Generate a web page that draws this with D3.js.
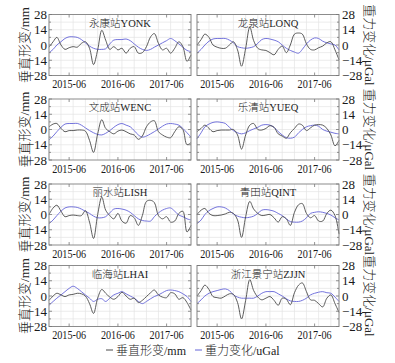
<!DOCTYPE html>
<html><head><meta charset="utf-8">
<script src="https://cdn.jsdelivr.net/npm/d3@7"></script>
<style>body{margin:0;background:#fff} svg{display:block}</style>
</head><body><svg id="c" width="395" height="363"></svg>
<script>
// ---------- data ----------
const months = d3.range(36).map(i => new Date(2015, i, 1)); // 2015-01 .. 2017-12
const xTickDates = [new Date(2015,5,1), new Date(2016,5,1), new Date(2017,5,1)];
const xTickLabels = ["2015-06","2016-06","2017-06"];
const yTicks = [28,14,0,-14,-28];
const yTickLabels = ["28","14","0","−14","−28"];
const stationNames = ["永康站YONK","龙泉站LONQ","文成站WENC","乐清站YUEQ","丽水站LISH","青田站QINT","临海站LHAI","浙江景宁站ZJJN"];
const seriesNames = ["垂直形变/mm","重力变化/uGal"];

const deformYONK = [-2,3,7,0,-4,-2.5,-1.5,-2,1.5,3,-3,-18,-4.5,13.5,4.5,-4,-1.5,-4.5,-3,-7.5,-3,-1.5,-7.5,-7,-1.5,7.5,10.5,1.5,-4.5,-3,-7.5,-3,3,-1.5,-15,-9];
const gravityYONK = [-7,-4,0,3,6,7.5,7.5,7,5,2,-1,-3,-4,-4,-3.5,1,4.5,5,5,5.5,4,1,-2,-4,-5,-4,-2,0,2,4,6,4,1,-2,-5,-6];
const deformLONQ = [0,5,10,7,0,-2,-3,-3,0,3,-4.5,-19.5,-3,16.5,4,-3,-4.5,-5,-7,-9,-4,-1,-7,0,10,11,10,1,-4,-4.5,-2.5,-1,2,3,-4.5,-13.5];
const gravityLONQ = [-7.5,-4,0,3.5,5.5,6,6,6,4.5,2,-1.5,-2.5,-3,-2.5,-1.5,1.5,5,6,5.5,4.5,3,0,-3,-5,-6.5,-7.5,-4,1,4.5,6.5,6,3.5,2,1,0,-4.5];
const deformWENC = [2.5,5,5.5,1,-2,-1,-1,-0.5,-0.5,-1.5,-10,-21,-4,9,1,-2,-4,-1.5,-0.5,-2,-4,-5,-9,-6,2.5,7,8,-2,-5,-7,-7.5,-2,2.5,0,-14,-12];
const gravityWENC = [-9.5,-6,-2,2,5,5.5,5.5,5.6,4,1.5,-1,-3,-4.5,-5,-3.5,-1,2,4.5,5.5,4,2.5,-1,-5,-7,-6,-4,-2,0.5,3,5,5.5,5,4,1,-3,-7];
const deformYUEQ = [-2,1,4,1,-2,-1,-0.5,-0.5,-0.5,0,-5,-18,-5,4,5.5,0,-0.5,1,3.5,2,-4,-6,-8,-3,1,5,4,-1,1.5,4,4.5,4,1,-5,-15,-10];
const gravityYUEQ = [-8.5,-3,2.5,5,6.5,7,6.5,5.6,2,-1,-3,-4,-3,-1,0.5,2,4,4.5,4,2,-2,-5,-7.5,-8,-7,-3,0,2.5,3.5,4,3,0,-1.5,-2.5,-3.5,-4];
const deformLISH = [0,6,8.5,3,-2,-1,-0.5,-1,-1,3.5,-7,-22,0,16,4,-1,-4,1,-6,-8,-1,-3,-10,-1,12,13,11,-1,-4,-2,-7,-6,1,3,-16,-10];
const gravityLISH = [-8.5,-5,-1,3,6,7,7,6.5,5,3,1,-1.5,-3,-3,-2,1.5,5,5.5,5,4,2,-1,-4,-5.5,-6,-6,-2,1.5,4,5.5,6,3,-0.5,-2,-4,-5];
const deformQINT = [0,4,5.5,1,-1,-1,-0.5,0.5,2,1,-5,-21,-2,12,5,1,-1,-0.5,0,-3,-7,-2,-4,-10,2,9,10,1,-3,-1,-6,-6,1,4,-1,-18];
const gravityQINT = [-8.5,-5,0,3.5,5.5,7,7,6,3.5,0.5,-1.5,-2.5,-3,-2.5,-1.5,1,4,4.5,4,3,1,-1,-4,-6.5,-7,-7,-6,-3,1,2,2.5,2,1,-0.5,-3,-5];
const deformLHAI = [-4,0,2.5,1,-0.5,1,1.5,2.5,2,0,-7,-16,-2,6,2.5,-1,-3,-0.5,3.5,0,-3,-2,-6,-4,-0.5,3,5.5,1,-1,-1.5,3,2,-3,-1.5,-6,-13];
const gravityLHAI = [-8.5,-5,-2,1,4,7,9,7,4,1,-2,-5,-3,-2.5,-5,-2,1,2.5,4,2,0,-2,-5,-7,-5,-2.5,-0.5,1,3,5,5.5,5,4,2,-0.5,-5];
const deformZJJN = [0,5,10,6,-0.5,-1.5,-2,0,2,1.5,-6,-21,-4,15,5,-1,-3.5,-2,-0.5,-4,-8.5,-2,-3,-8,3,10,12,4,-3.5,-4,-7,-10,-2,1,-7,-15];
const gravityZJJN = [-7,-3.5,0,2.5,4,5,6,6.5,5,1,-1,-2,-2,-2,-2,0,2.5,4,4,4,2,0,-2.5,-4.5,-5,-5,-4,-2,1,2.5,3.5,4,3,2.5,-1,-5];

const deformAll = [deformYONK,deformLONQ,deformWENC,deformYUEQ,deformLISH,deformQINT,deformLHAI,deformZJJN];
const gravityAll = [gravityYONK,gravityLONQ,gravityWENC,gravityYUEQ,gravityLISH,gravityQINT,gravityLHAI,gravityZJJN];

// ---------- layout ----------
const colX = [49, 197], pw = 142, ph = 61;
const rowY = [14.5, 99, 184, 265.5];
const serif = '"Liberation Serif","Noto Sans CJK SC",serif';
const cDeform = "#4a4a4a", cGravity = "#6464d8";

const svg = d3.select("#c");
const x = d3.scaleTime().domain([months[0], months[35]]).range([0, pw]);
const y = d3.scaleLinear().domain([-28, 28]).range([ph, 0]);
const minorY = d3.range(-28, 29, 7);
const gridX = d3.range(0, 36, 3).map(i => months[i]).concat([months[35]]);

stationNames.forEach((name, k) => {
  const col = k % 2, row = Math.floor(k / 2);
  const g = svg.append("g").attr("transform", `translate(${colX[col]},${rowY[row]})`);
  // grid
  g.selectAll(".gy").data([21,14,7,0,-7,-14,-21]).join("line")
    .attr("x1", 0).attr("x2", pw).attr("y1", d => y(d)).attr("y2", d => y(d))
    .attr("stroke", "#e4e4e4").attr("stroke-width", 0.7);
  g.selectAll(".gx").data(gridX).join("line")
    .attr("x1", d => x(d)).attr("x2", d => x(d)).attr("y1", 0).attr("y2", ph)
    .attr("stroke", "#e4e4e4").attr("stroke-width", 0.7);
  // lines
  const line = d3.line().x((d, i) => x(months[i])).y(d => y(d)).curve(d3.curveCatmullRom.alpha(0.5));
  g.append("path").attr("d", line(gravityAll[k])).attr("fill", "none")
    .attr("stroke", cGravity).attr("stroke-width", 0.9);
  g.append("path").attr("d", line(deformAll[k])).attr("fill", "none")
    .attr("stroke", cDeform).attr("stroke-width", 0.9);
  // frame
  g.append("rect").attr("width", pw).attr("height", ph).attr("fill", "none")
    .attr("stroke", "#8c8c8c").attr("stroke-width", 1);
  // inward ticks
  minorY.forEach(v => {
    const L = (v % 14 === 0) ? 3 : 2;
    g.append("line").attr("x1", 0).attr("x2", L).attr("y1", y(v)).attr("y2", y(v)).attr("stroke", "#777").attr("stroke-width", 0.8);
    g.append("line").attr("x1", pw).attr("x2", pw - L).attr("y1", y(v)).attr("y2", y(v)).attr("stroke", "#777").attr("stroke-width", 0.8);
  });
  xTickDates.forEach(d => {
    g.append("line").attr("x1", x(d)).attr("x2", x(d)).attr("y1", ph).attr("y2", ph - 3).attr("stroke", "#777").attr("stroke-width", 0.8);
    g.append("line").attr("x1", x(d)).attr("x2", x(d)).attr("y1", 0).attr("y2", 3).attr("stroke", "#777").attr("stroke-width", 0.8);
  });
  // x tick labels
  xTickDates.forEach((d, i) => {
    g.append("text").attr("x", x(d)).attr("y", ph + 12.5).attr("text-anchor", "middle")
      .attr("font-family", serif).attr("font-size", 13.5).attr("fill", "#1a1a1a")
      .attr("textLength", 34).attr("lengthAdjust", "spacingAndGlyphs").text(xTickLabels[i]);
  });
  // y tick labels
  yTicks.forEach((v, i) => {
    const t = g.append("text").attr("y", y(v) + 4.5)
      .attr("font-family", serif).attr("font-size", 13).attr("fill", "#1a1a1a").text(yTickLabels[i]);
    if (col === 0) t.attr("x", -2).attr("text-anchor", "end");
    else t.attr("x", pw + 3).attr("text-anchor", "start");
  });
  // station title
  g.append("text").attr("x", pw / 2).attr("y", 12).attr("text-anchor", "middle")
    .attr("font-family", serif).attr("font-size", 10.5).attr("font-weight", 300).attr("fill", "#222").text(name);
  // axis titles
  if (col === 0) {
    g.append("text").attr("transform", `translate(${24 - colX[0]},${ph / 2}) rotate(-90)`)
      .attr("text-anchor", "middle").attr("dy", "0.35em")
      .attr("font-family", serif).attr("font-size", 13).attr("font-weight", 300).attr("fill", "#222").text("垂直形变/mm");
  } else {
    g.append("text").attr("transform", `translate(${370 - colX[1]},${ph / 2}) rotate(90)`)
      .attr("text-anchor", "middle").attr("dy", "0.35em")
      .attr("font-family", serif).attr("font-size", 13).attr("font-weight", 300).attr("fill", "#222").text("重力变化/μGal");
  }
});

// legend
const leg = svg.append("g");
[[106, cDeform, seriesNames[0]], [195, cGravity, seriesNames[1]]].forEach(([lx, c, t]) => {
  leg.append("line").attr("x1", lx).attr("x2", lx + 7).attr("y1", 350).attr("y2", 350).attr("stroke", c).attr("stroke-width", 1);
  leg.append("text").attr("x", lx + 10).attr("y", 354.5).attr("font-family", serif)
    .attr("font-size", 12).attr("font-weight", 300).attr("fill", "#222").text(t);
});
</script></body></html>
